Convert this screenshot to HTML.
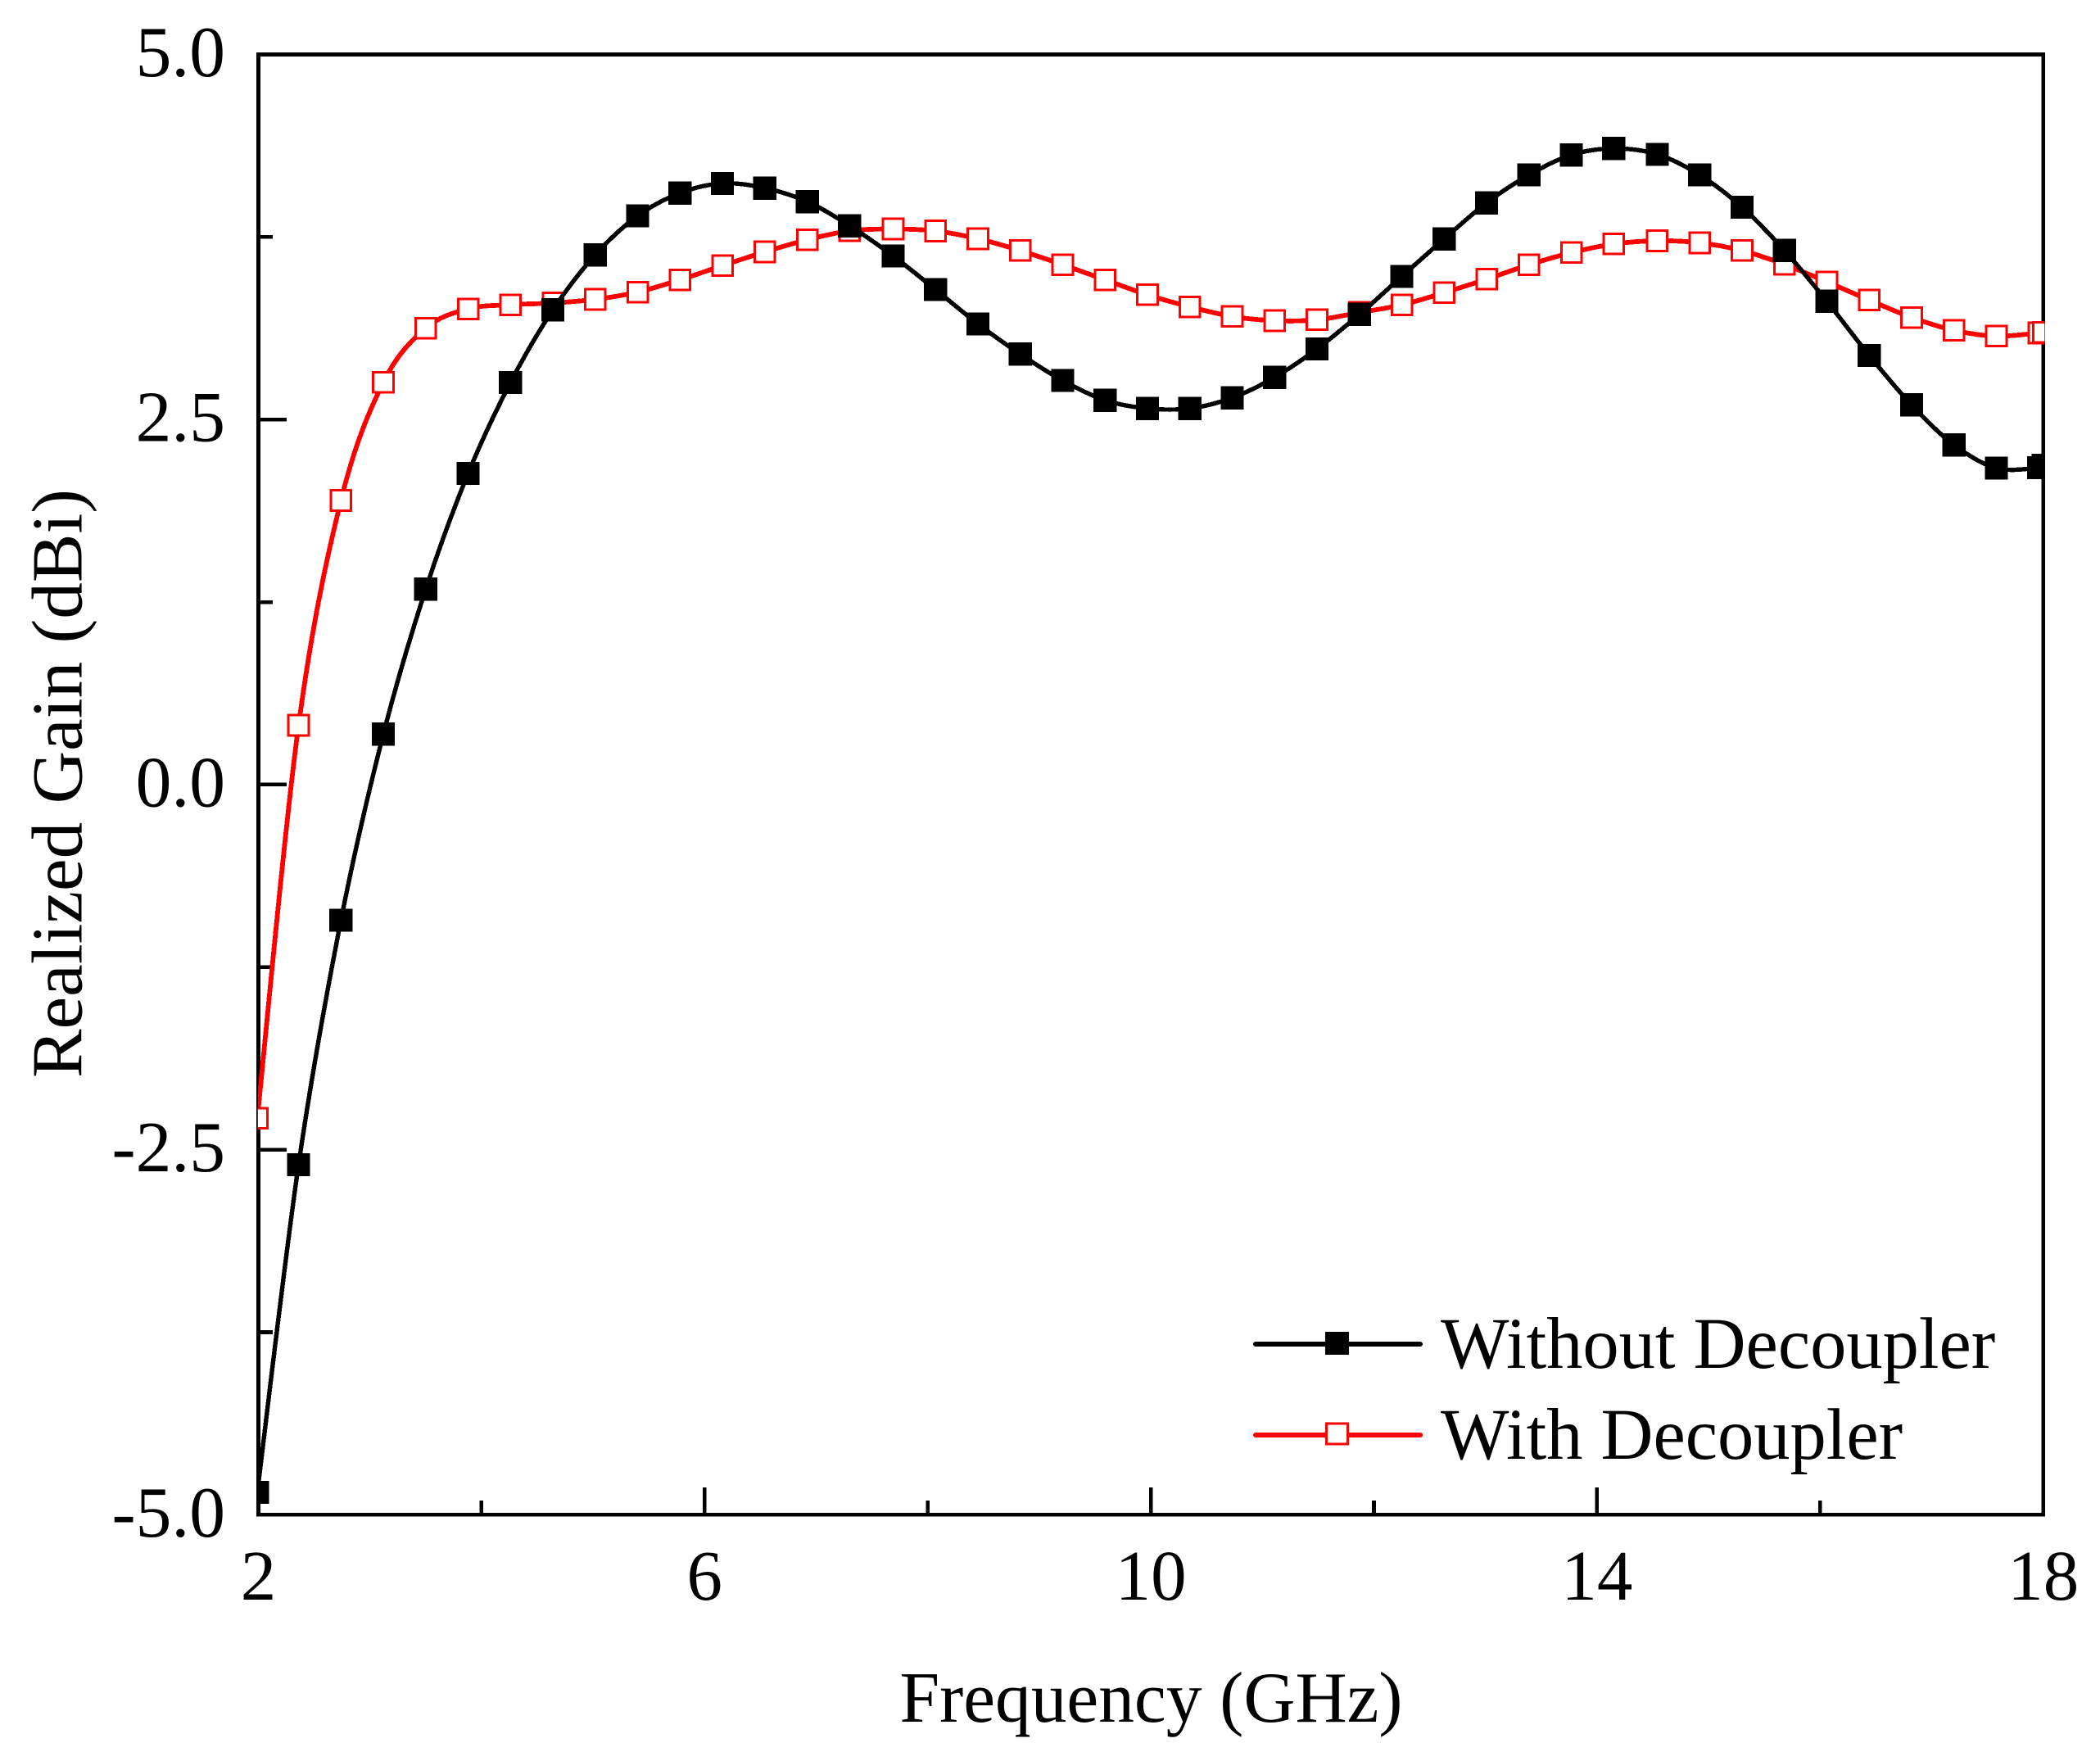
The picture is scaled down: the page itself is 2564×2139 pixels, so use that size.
<!DOCTYPE html>
<html lang="en">
<head>
<meta charset="utf-8">
<title>Realized Gain vs Frequency</title>
<style>
html,body{margin:0;padding:0;background:#fff;}
body{width:2564px;height:2139px;overflow:hidden;}
svg{display:block;}
text{font-family:"Liberation Serif",serif;fill:#000;}
line,rect,path{shape-rendering:crispEdges;}
</style>
</head>
<body>
<svg id="chart" xmlns="http://www.w3.org/2000/svg" width="2564" height="2139" viewBox="0 0 2564 2139">
  <rect x="0" y="0" width="2564" height="2139" fill="#fff"/>
  <defs>
    <clipPath id="plot-clip"><rect x="314.8" y="0" width="2181.5" height="2139"/></clipPath>
  </defs>
  <g id="axes"></g>
  <rect x="315.5" y="66.5" width="2179.2" height="1782.8" fill="none" stroke="#000" stroke-width="4.6"/>
  <g id="series" clip-path="url(#plot-clip)"></g>
  <text x="1405.5" y="2102" font-size="88" text-anchor="middle" textLength="614" lengthAdjust="spacingAndGlyphs">Frequency (GHz)</text>
  <text transform="translate(99.5,1316) rotate(-90)" x="0" y="0" font-size="88" textLength="719" lengthAdjust="spacingAndGlyphs">Realized Gain (dBi)</text>
  <g>
    <g>
      <line x1="1533" y1="1641" x2="1734" y2="1641" stroke="#000" stroke-width="6" stroke-linecap="round"/>
      <rect x="1618" y="1626" width="29" height="28" fill="#000"/>
      <text x="1759" y="1670" font-size="88.5">Without Decoupler</text>
    </g>
    <g>
      <line x1="1533" y1="1752" x2="1734" y2="1752" stroke="#f00" stroke-width="6" stroke-linecap="round"/>
      <rect x="1619.5" y="1738" width="26" height="25" fill="#fff" stroke="#f00" stroke-width="3.2"/>
      <text x="1759" y="1781" font-size="88.5">With Decoupler</text>
    </g>
  </g>
</svg>
<script>
const frequencies = [1.99,2.36,2.74,3.12,3.50,3.88,4.26,4.64,5.02,5.40,5.78,6.16,6.54,6.92,7.30,7.69,8.07,8.45,8.83,9.21,9.59,9.97,10.35,10.73,11.11,11.49,11.87,12.25,12.63,13.01,13.39,13.77,14.15,14.54,14.92,15.30,15.68,16.06,16.44,16.82,17.20,17.58,17.96,18.00];
const withoutDecoupler = [-4.847,-2.603,-0.929,0.345,1.338,2.131,2.754,3.251,3.628,3.895,4.051,4.117,4.085,3.992,3.827,3.620,3.390,3.155,2.948,2.767,2.632,2.576,2.576,2.649,2.789,2.984,3.220,3.480,3.737,3.984,4.175,4.312,4.356,4.316,4.175,3.954,3.658,3.310,2.939,2.600,2.326,2.167,2.170,2.185];
const withDecoupler = [-2.286,0.406,1.946,2.755,3.125,3.258,3.286,3.298,3.323,3.373,3.457,3.554,3.648,3.731,3.792,3.805,3.791,3.738,3.657,3.560,3.457,3.354,3.272,3.206,3.177,3.183,3.233,3.285,3.369,3.461,3.560,3.643,3.702,3.724,3.710,3.657,3.562,3.443,3.318,3.199,3.111,3.071,3.093,3.096];
const xMajorTicks = [2,6,10,14,18];
const xMinorTicks = [4,8,12,16];
const xTickLabels = ["2","6","10","14","18"];
const yMajorTicks = [5,2.5,0,-2.5,-5];
const yMinorTicks = [3.75,1.25,-1.25,-3.75];
const yTickLabels = ["5.0","2.5","0.0","-2.5","-5.0"];

const NS = "http://www.w3.org/2000/svg";
const plot = {left:315.5,right:2494.7,top:66.5,bottom:1849.3};
const xDomain = [2,18];
const yDomain = [-5,5];
function xScale(v){return plot.left+(v-xDomain[0])/(xDomain[1]-xDomain[0])*(plot.right-plot.left);}
function yScale(v){return plot.bottom-(v-yDomain[0])/(yDomain[1]-yDomain[0])*(plot.bottom-plot.top);}
function make(tag,attrs){
  const el=document.createElementNS(NS,tag);
  for(const k in attrs){el.setAttribute(k,attrs[k]);}
  return el;
}
const axes=document.getElementById("axes");
const seriesGroup=document.getElementById("series");

xMajorTicks.forEach(function(t,i){
  const x=xScale(t);
  const tick=make("line",{x1:x,y1:plot.bottom,x2:x,y2:1816,stroke:"#000","stroke-width":4.6});
  
  
  axes.appendChild(tick);
  const label=make("text",{x:x,y:1953,"font-size":87,"text-anchor":"middle"});
  
  
  label.textContent=xTickLabels[i];
  axes.appendChild(label);
});
xMinorTicks.forEach(function(t){
  const x=xScale(t);
  const tick=make("line",{x1:x,y1:plot.bottom,x2:x,y2:1832,stroke:"#000","stroke-width":4.6});
  
  
  axes.appendChild(tick);
});
yMajorTicks.forEach(function(t,i){
  const y=yScale(t);
  const tick=make("line",{x1:plot.left,y1:y,x2:350,y2:y,stroke:"#000","stroke-width":4.6});
  
  
  axes.appendChild(tick);
  const label=make("text",{x:275,y:y+26.5,"font-size":87.5,"text-anchor":"end"});
  
  
  label.textContent=yTickLabels[i];
  axes.appendChild(label);
});
yMinorTicks.forEach(function(t){
  const y=yScale(t);
  const tick=make("line",{x1:plot.left,y1:y,x2:333,y2:y,stroke:"#000","stroke-width":4.6});
  
  
  axes.appendChild(tick);
});

function splinePath(xs,ys){
  const pts=xs.map(function(x,i){return [xScale(x),yScale(ys[i])];});
  let d="M"+pts[0][0].toFixed(2)+" "+pts[0][1].toFixed(2);
  for(let i=0;i<pts.length-1;i++){
    const p0=pts[Math.max(i-1,0)],p1=pts[i],p2=pts[i+1],p3=pts[Math.min(i+2,pts.length-1)];
    const c1x=p1[0]+(p2[0]-p0[0])/6,c1y=p1[1]+(p2[1]-p0[1])/6;
    const c2x=p2[0]-(p3[0]-p1[0])/6,c2y=p2[1]-(p3[1]-p1[1])/6;
    d+=" C"+c1x.toFixed(2)+" "+c1y.toFixed(2)+" "+c2x.toFixed(2)+" "+c2y.toFixed(2)+" "+p2[0].toFixed(2)+" "+p2[1].toFixed(2);
  }
  return d;
}

function drawRed(){
  const line=make("path",{d:splinePath(frequencies,withDecoupler),fill:"none",stroke:"#f00","stroke-width":5.8,"stroke-linejoin":"round"});
  
  
  seriesGroup.appendChild(line);
  const side=24.6;
  withDecoupler.forEach(function(v,i){
    const m=make("rect",{x:xScale(frequencies[i])-side/2,y:yScale(v)-side/2,width:side,height:side,fill:"#fff",stroke:"#f00","stroke-width":3});
    
    
    seriesGroup.appendChild(m);
  });
}
function drawBlack(){
  const line=make("path",{d:splinePath(frequencies,withoutDecoupler),fill:"none",stroke:"#000","stroke-width":5.4,"stroke-linejoin":"round"});
  
  
  seriesGroup.appendChild(line);
  const side=28.3;
  withoutDecoupler.forEach(function(v,i){
    const m=make("rect",{x:xScale(frequencies[i])-side/2,y:yScale(v)-side/2,width:side,height:side,fill:"#000"});
    
    
    seriesGroup.appendChild(m);
  });
}
drawRed();
drawBlack();
</script>
</body>
</html>
